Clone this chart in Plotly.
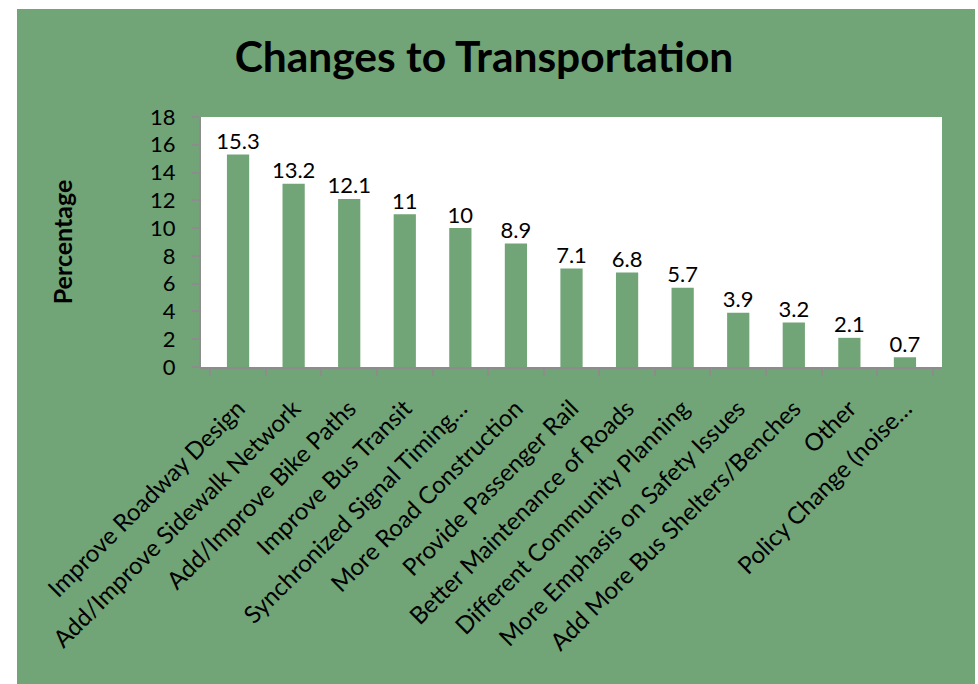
import plotly.graph_objects as go

categories = ["Improve Roadway Design", "Add/Improve Sidewalk Network", "Add/Improve Bike Paths",
              "Improve Bus Transit", "Synchronized Signal Timing…", "More Road Construction",
              "Provide Passenger Rail", "Better Maintenance of Roads", "Different Community Planning",
              "More Emphasis on Safety Issues", "Add More Bus Shelters/Benches", "Other",
              "Policy Change (noise…"]
values = [15.3, 13.2, 12.1, 11, 10, 8.9, 7.1, 6.8, 5.7, 3.9, 3.2, 2.1, 0.7]
labels = ["15.3", "13.2", "12.1", "11", "10", "8.9", "7.1", "6.8", "5.7", "3.9", "3.2", "2.1", "0.7"]

GREEN = "#71A476"
AXIS = "#8C8C8C"
FONT = "Lato"
W, H = 978, 684
ml, mr, mt, mb = 201, 36, 117, 317

fig = go.Figure()
fig.add_trace(go.Bar(
    x=categories, y=values,
    marker=dict(color=GREEN, line=dict(width=0)), width=0.4, hoverinfo="skip",
))
fig.add_trace(go.Scatter(
    x=categories, y=values, text=labels, mode="text", textposition="top center",
    textfont=dict(family=FONT, size=22, color="black"), cliponaxis=False, hoverinfo="skip",
))

pw = W - ml - mr
ph = H - mt - mb
x0 = (17 - ml) / pw
x1 = (975 - ml) / pw
y1 = (H - 9 - mb) / ph
y0 = (0 - mb) / ph - 0.05

fig.update_layout(
    width=W, height=H,
    margin=dict(l=ml, r=mr, t=mt, b=mb, autoexpand=False),
    paper_bgcolor="white", plot_bgcolor="white",
    showlegend=False,
    title=dict(text="<b>Changes to Transportation</b>", x=484 / W, xref="container", xanchor="center",
               y=1 - 57 / H, yanchor="middle",
               font=dict(family=FONT, size=42.5, color="black")),
    shapes=[dict(type="rect", xref="paper", yref="paper", x0=x0, x1=x1, y0=y0, y1=y1,
                 fillcolor=GREEN, line=dict(width=0), layer="below"),
            dict(type="rect", xref="paper", yref="paper", x0=0, x1=1, y0=0, y1=1,
                 fillcolor="white", line=dict(width=0), layer="below")],
)
fig.update_xaxes(
    showline=True, linecolor=AXIS, linewidth=2, ticks="outside", tickson="boundaries",
    ticklen=7, tickcolor=AXIS, tickwidth=2, tickangle=-45, ticklabelstandoff=16,
    tickfont=dict(family=FONT, size=24, color="black"), showgrid=False,
)
fig.update_yaxes(
    range=[0, 18], dtick=2, showline=True, linecolor=AXIS, linewidth=2,
    ticks="outside", ticklen=7, tickcolor=AXIS, tickwidth=2, showgrid=False, ticklabelstandoff=12,
    tickfont=dict(family=FONT, size=22, color="black"), zeroline=False,
    title=dict(text="<b>Percentage</b>", font=dict(family=FONT, size=25, color="black"), standoff=70),
)
fig.write_html("out.html", config={"displayModeBar": False},
               post_script="document.body.style.margin='0px';")
